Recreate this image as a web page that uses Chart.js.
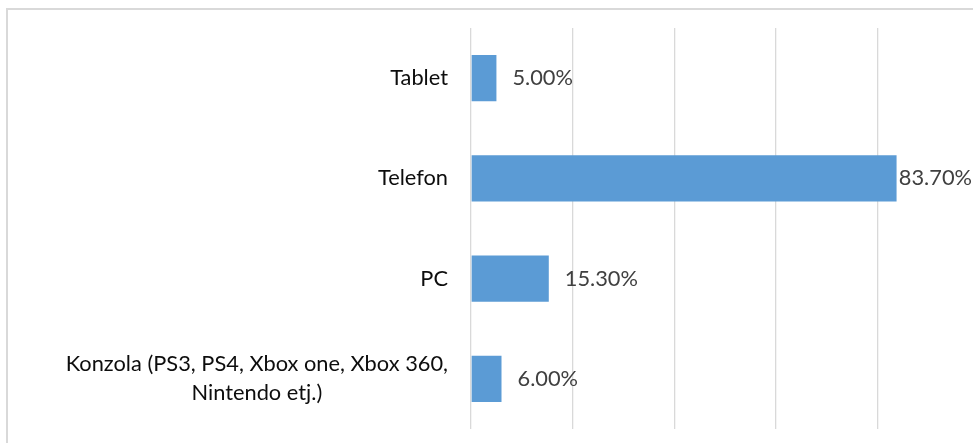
<!DOCTYPE html>
<html>
<head>
<meta charset="utf-8">
<script src="https://cdn.jsdelivr.net/npm/chart.js@4"></script>
<style>
html,body{margin:0;padding:0;background:#fff;overflow:hidden;}
#wrap{position:relative;width:973px;height:443px;}
#frame{position:absolute;left:6px;top:8px;width:1100px;height:600px;border:2px solid #d9d9d9;box-sizing:border-box;pointer-events:none;}
canvas{position:absolute;left:0;top:0;}
</style>
</head>
<body>
<div id="wrap">
<canvas id="c" width="973" height="443"></canvas>
<div id="frame"></div>
</div>
<script>
const categories = [
  ["Tablet"],
  ["Telefon"],
  ["PC"],
  ["Konzola (PS3, PS4, Xbox one, Xbox 360,", "Nintendo etj.)"]
];
const values = [5.00, 83.70, 15.30, 6.00];
const valueLabels = ["5.00%", "83.70%", "15.30%", "6.00%"];
const xTicks = [0, 20, 40, 60, 80];

const FONT = 'Lato';
const FS = 21.8;

const labelPlugin = {
  id: 'customLabels',
  afterDatasetsDraw(chart) {
    const ctx = chart.ctx;
    const yScale = chart.scales.y;
    const meta = chart.getDatasetMeta(0);
    ctx.save();
    ctx.font = FS + 'px ' + FONT;
    ctx.textBaseline = 'middle';
    // category labels
    categories.forEach((lines, i) => {
      const cy = yScale.getPixelForValue(i);
      const w = Math.max(...lines.map(l => ctx.measureText(l).width));
      const right = 448;
      const cx = right - w / 2;
      const lh = 29;
      const y0 = cy - (lines.length - 1) * lh / 2;
      ctx.fillStyle = '#0d0d0d';
      ctx.textAlign = 'center';
      lines.forEach((l, k) => ctx.fillText(l, cx, y0 + k * lh));
    });
    // value labels
    ctx.fillStyle = '#404040';
    ctx.textAlign = 'left';
    meta.data.forEach((bar, i) => {
      const t = valueLabels[i];
      const tw = ctx.measureText(t).width;
      let x = bar.x + 16;
      if (x + tw > 972) x = Math.min(bar.x + 3, 972 - tw);
      ctx.fillText(t, x, bar.y);
    });
    ctx.restore();
  }
};

new Chart(document.getElementById('c'), {
  type: 'bar',
  data: {
    labels: categories,
    datasets: [{
      data: values,
      backgroundColor: '#5B9BD5',
      borderWidth: 0,
      barPercentage: 0.46,
      categoryPercentage: 1.0
    }]
  },
  options: {
    indexAxis: 'y',
    responsive: false,
    animation: false,
    devicePixelRatio: 1,
    layout: { padding: { top: 28, bottom: 14, left: 0, right: 44.4 } },
    plugins: { legend: { display: false }, tooltip: { enabled: false } },
    scales: {
      x: {
        min: 0,
        max: 90,
        afterBuildTicks(scale) { scale.ticks = xTicks.map(v => ({ value: v })); },
        ticks: { display: false },
        grid: { color: '#d9d9d9', lineWidth: 1.3, drawTicks: false },
        border: { display: false }
      },
      y: {
        afterFit(scale) { scale.width = 471; },
        ticks: { display: false },
        grid: { display: false, drawTicks: false },
        border: { display: false }
      }
    }
  },
  plugins: [labelPlugin]
});
</script>
</body>
</html>
